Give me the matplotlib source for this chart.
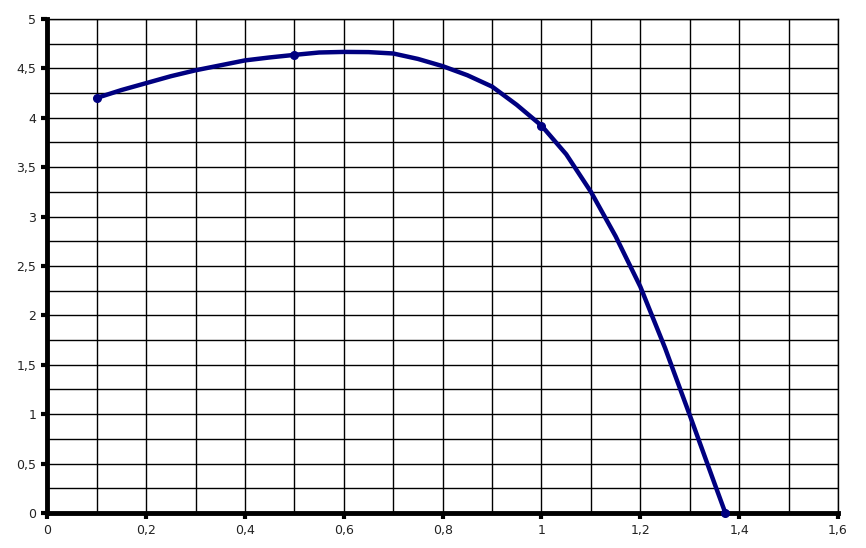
import matplotlib
matplotlib.use('Agg')
import matplotlib.pyplot as plt
from matplotlib.ticker import MultipleLocator, FuncFormatter

# curve
x_vals = [0.1, 0.15, 0.2, 0.25, 0.3, 0.35, 0.4, 0.45, 0.5, 0.55, 0.6, 0.65, 0.7,
          0.75, 0.8, 0.85, 0.9, 0.95, 1.0, 1.05, 1.1, 1.15, 1.2, 1.25, 1.3, 1.35, 1.372]
y_vals = [4.20, 4.28, 4.35, 4.42, 4.48, 4.53, 4.58, 4.61, 4.636, 4.66, 4.666, 4.664, 4.65,
          4.595, 4.522, 4.43, 4.315, 4.13, 3.92, 3.63, 3.25, 2.80, 2.29, 1.67, 0.99, 0.30, 0.0]

# the points that carry a marker
mark_x = [0.1, 0.5, 1.0, 1.372]
mark_y = [4.20, 4.636, 3.92, 0.0]

def comma(v, pos):
    s = f'{v:.1f}'.rstrip('0').rstrip('.')
    return s.replace('.', ',')

fig = plt.figure(figsize=(8.66, 5.48), dpi=100)
ax = fig.add_axes([0.0546, 0.0639, 0.9131, 0.9016])

ax.plot(x_vals, y_vals, color='#000080', lw=3.2, solid_capstyle='round',
        solid_joinstyle='round', zorder=3)
ax.plot(mark_x, mark_y, 'o', color='#000080', ms=5.5, zorder=4, clip_on=False)

ax.set_xlim(0, 1.6)
ax.set_ylim(0, 5)
ax.xaxis.set_major_locator(MultipleLocator(0.2))
ax.xaxis.set_minor_locator(MultipleLocator(0.1))
ax.yaxis.set_major_locator(MultipleLocator(0.5))
ax.yaxis.set_minor_locator(MultipleLocator(0.25))
ax.xaxis.set_major_formatter(FuncFormatter(comma))
ax.yaxis.set_major_formatter(FuncFormatter(comma))

ax.grid(True, which='both', color='black', lw=1.0)
ax.set_axisbelow(True)

for side in ['left', 'bottom']:
    ax.spines[side].set_linewidth(3.5)
for side in ['top', 'right']:
    ax.spines[side].set_linewidth(1.0)

ax.tick_params(which='major', direction='out', length=4, width=3, labelsize=9,
               pad=4, labelcolor='#222222')
ax.tick_params(which='minor', length=0)

fig.savefig('out.png', dpi=100)
